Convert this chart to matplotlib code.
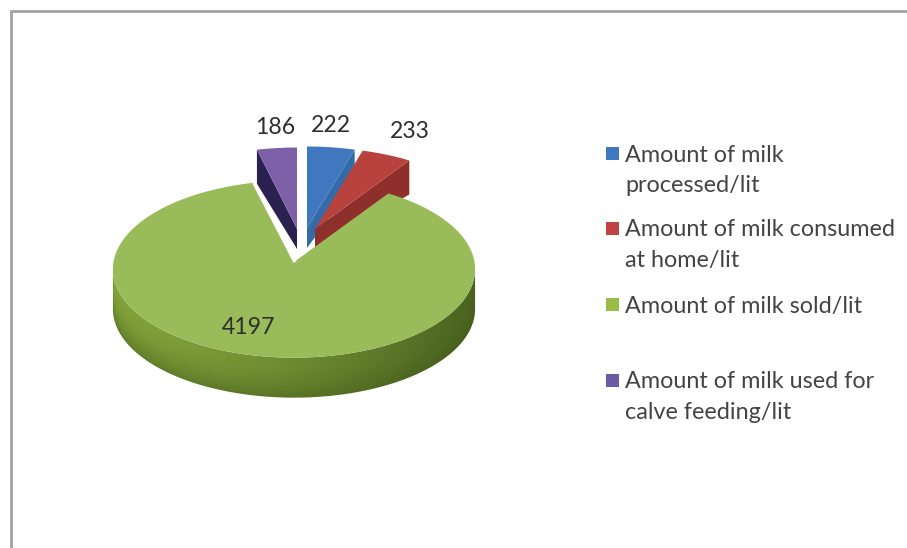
import matplotlib
matplotlib.use("Agg")
import matplotlib.pyplot as plt
from matplotlib.colors import to_rgb
from matplotlib.patches import Polygon, Rectangle
import numpy as np

plt.rcParams['font.family'] = ['Lato', 'DejaVu Sans']

categories = ["Amount of milk\nprocessed/lit",
              "Amount of milk consumed\nat home/lit",
              "Amount of milk sold/lit",
              "Amount of milk used for\ncalve feeding/lit"]
values = [222, 233, 4197, 186]

top_colors = ["#3f78bf", "#b8423e", "#9abb59", "#7d60a8"]
cut_colors = ["#336aa8", "#8e2f2c", "#6c8c2c", "#2b2150"]
legend_colors = ["#3f78bf", "#bf4340", "#9abb47", "#6a5ba5"]

# disc shape on screen, k gives the slight perspective
RX, RY, K = 180.5, 88.0, 0.08
RIM_DEPTH, APEX_DEPTH, GREEN_DEPTH = 34, 20, 40
# where the point of each slice sits
apexes = [(307, 228), (315, 229), (294, 262), (297, 229)]
label_pos = [(331, 126), (410, 132), (249, 328), (275, 127)]
legend_rows = [147, 222, 298, 374]


def project(theta, cx, cy):
    # theta runs clockwise from 12 o'clock
    x_disc = np.sin(theta)
    y_disc = np.cos(theta)
    s = 1 / (1 + K * y_disc)
    return cx + x_disc * RX * s, cy - y_disc * RY * s


def slice_outline(start, end, cx, cy):
    t = np.linspace(start, end, 200)
    x, y = project(t, cx, cy)
    return np.column_stack([np.r_[cx, x], np.r_[cy, y]])


def hex_rgb(c):
    return np.array(to_rgb(c))


fig = plt.figure(figsize=(9.07, 5.48), dpi=100, facecolor="white")
ax = fig.add_axes([0, 0, 1, 1])
ax.set_xlim(0, 907)
ax.set_ylim(548, 0)
ax.axis("off")

# chart frame, only top and left fall inside the image
ax.plot([10.5, 10.5, 907], [548, 10.5, 10.5], color="#a2a2a2", lw=2, solid_joinstyle="miter")

edges = np.r_[0, np.cumsum(values)] / sum(values) * 2 * np.pi

# small slices first, the sold slice goes over them
for i in [3, 0, 1]:
    start, end = edges[i], edges[i + 1]
    cx, cy = apexes[i]
    if i == 3:
        start, end = start - 2 * np.pi, end - 2 * np.pi
        px, py = project(start, cx, cy)
    else:
        px, py = project(end, cx, cy)
    cut = [(cx, cy), (px, py), (px, py + RIM_DEPTH), (cx, cy + APEX_DEPTH)]
    ax.add_patch(Polygon(cut, fc=cut_colors[i], ec="none", zorder=2 + i))
    ax.add_patch(Polygon(slice_outline(start, end, cx, cy), fc=top_colors[i], ec="none", zorder=2.5 + i))

# rim of the sold slice, shaded left to right and darker at the bottom
start, end = edges[2], edges[3]
cx, cy = apexes[2]
arc_x, arc_y = project(np.linspace(start, end, 600), cx, cy)
i_right, i_left = np.argmax(arc_x), np.argmin(arc_x)
front_x, front_y = arc_x[i_right:i_left + 1], arc_y[i_right:i_left + 1]

grid_x = np.arange(int(front_x.min()) - 1, int(front_x.max()) + 3)
grid_y = np.arange(int(front_y.min()) - 1, int(front_y.max()) + GREEN_DEPTH + 3)
rim_top = np.interp(grid_x, front_x[::-1], front_y[::-1])
across = np.clip((grid_x - grid_x[0]) / (grid_x[-1] - grid_x[0]), 0, 1) ** 1.4
down = np.clip((grid_y[:, None] - rim_top[None, :]) / GREEN_DEPTH, 0, 1)
base = hex_rgb("#83a23a")[None, None, :] * (1 - across[None, :, None]) + hex_rgb("#4a6320")[None, None, :] * across[None, :, None]
fade = 0.45 * down[:, :, None] ** 2
rim_img = base * (1 - fade) + hex_rgb("#3f5518")[None, None, :] * fade
rim = ax.imshow(rim_img, extent=(grid_x[0] - 0.5, grid_x[-1] + 0.5, grid_y[-1] + 0.5, grid_y[0] - 0.5),
                aspect="auto", zorder=8, interpolation="bilinear")
rim_shape = Polygon(np.column_stack([np.r_[front_x, front_x[::-1]],
                                     np.r_[front_y, front_y[::-1] + GREEN_DEPTH]]),
                    transform=ax.transData, fc="none", ec="none")
rim.set_clip_path(rim_shape)
ax.set_xlim(0, 907)
ax.set_ylim(548, 0)

ax.add_patch(Polygon(slice_outline(start, end, cx, cy), fc=top_colors[2], ec="none", zorder=9))
# white gap along the left cut
lx, ly = project(end, cx, cy)
ax.plot([lx, cx + 1], [ly, cy], color="white", lw=2.5, solid_capstyle="butt", zorder=10)

for value, (lx, ly) in zip(values, label_pos):
    ax.text(lx, ly, str(value), ha="center", va="center", fontsize=16.6, color="#2e2e2e", zorder=12)

for name, color, row in zip(categories, legend_colors, legend_rows):
    ax.add_patch(Rectangle((606, row), 13, 13, fc=color, ec="none"))
    ax.text(625, row - 2.5, name, ha="left", va="top", fontsize=16.8, color="#444444", linespacing=1.58)

fig.savefig("out.png", dpi=100)
